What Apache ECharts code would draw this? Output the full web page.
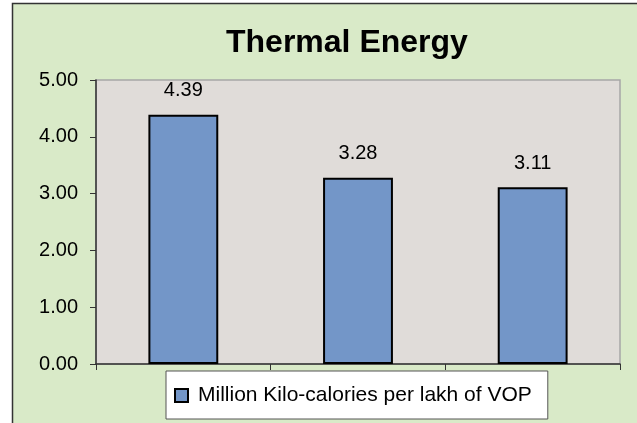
<!DOCTYPE html>
<html lang="en" style="height: 100%">
<head>
  <meta charset="utf-8">
</head>
<body style="height: 100%; margin: 0; background: #fff">
  <div id="container" style="width: 637px; height: 423px"></div>

  <script type="text/javascript" src="https://fastly.jsdelivr.net/npm/echarts@6/dist/echarts.min.js"></script>
  <script type="text/javascript">
    // chart data
    var categories = ['A', 'B', 'C'];
    var values = [4.39, 3.28, 3.11];
    var seriesName = 'Million Kilo-calories per lakh of VOP';
    var yTicks = [0, 1, 2, 3, 4, 5];

    var font = 'Liberation Sans, Arial, sans-serif';
    var dom = document.getElementById('container');
    var myChart = echarts.init(dom, null, { renderer: 'canvas' });

    var option = {
      animation: false,
      backgroundColor: '#ffffff',
      graphic: [{
        type: 'rect',
        z: -10,
        silent: true,
        shape: { x: 12.5, y: 3.5, width: 700, height: 500 },
        style: { fill: '#d9eac8', stroke: '#333333', lineWidth: 1.5 }
      }],
      title: {
        text: 'Thermal Energy',
        left: 221,
        top: 22,
        textStyle: { fontFamily: font, fontSize: 32, fontWeight: 'bold', color: '#000' }
      },
      legend: {
        data: [seriesName],
        left: 166,
        top: 371,
        backgroundColor: '#ffffff',
        borderColor: '#555555',
        borderWidth: 1,
        padding: [14, 16, 13, 8],
        itemWidth: 13,
        itemHeight: 13,
        itemGap: 10,
        icon: 'rect',
        textStyle: { fontFamily: font, fontSize: 21, color: '#000', padding: [0, 0, 0, 5] }
      },
      grid: {
        show: true,
        left: 96,
        top: 80,
        right: 17,
        bottom: 59,
        backgroundColor: '#e0dcd9',
        borderColor: '#a6a6a6',
        borderWidth: 1.5
      },
      xAxis: {
        type: 'category',
        data: categories,
        axisLine: { show: true, lineStyle: { color: '#333', width: 1.5 } },
        axisTick: { show: true, length: 6, lineStyle: { color: '#333' } },
        axisLabel: { show: false },
        splitLine: { show: false }
      },
      yAxis: {
        type: 'value',
        min: yTicks[0],
        max: yTicks[yTicks.length - 1],
        interval: 1,
        axisLine: { show: true, lineStyle: { color: '#333', width: 1.5 } },
        axisTick: { show: true, length: 6, lineStyle: { color: '#333' } },
        axisLabel: {
          margin: 18,
          fontFamily: font,
          fontSize: 20,
          color: '#000',
          formatter: function (v) { return v.toFixed(2); }
        },
        splitLine: { show: false }
      },
      series: [{
        name: seriesName,
        type: 'bar',
        data: values,
        barWidth: '40%',
        itemStyle: { color: '#7396c8', borderColor: '#000', borderWidth: 2 },
        label: {
          show: true,
          position: 'top',
          distance: 14,
          fontFamily: font,
          fontSize: 20,
          color: '#000',
          formatter: function (p) { return p.value.toFixed(2); }
        }
      }]
    };

    myChart.setOption(option);
    window.addEventListener('resize', myChart.resize);
  </script>
</body>
</html>
